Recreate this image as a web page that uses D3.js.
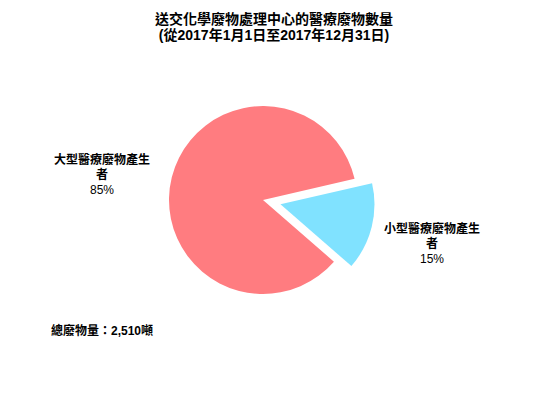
<!DOCTYPE html>
<html>
<head>
<meta charset="utf-8">
<script src="https://cdn.jsdelivr.net/npm/d3@7"></script>
<style>
  html, body { margin: 0; padding: 0; background: #fff; }
  text { font-family: "Liberation Sans", Arial, "Noto Sans CJK TC", sans-serif; font-weight: bold; fill: #000; }
</style>
</head>
<body>
<div id="chart"></div>
<script>
// Waste received at the chemical waste treatment centre, 2017
const titleLines = ['送交化學廢物處理中心的醫療廢物數量', '(從2017年1月1日至2017年12月31日)'];
const categories = [['大型醫療廢物產生', '者'], ['小型醫療廢物產生', '者']];
const shares = [85, 15];
const colors = ['#FF7C80', '#80E2FF'];
const totalLabel = '總廢物量：2,510噸';

(function () {
  const W = 539, H = 409;
  const cx = 263, cy = 200, radius = 94, explode = 18;

  const svg = d3.select('#chart').append('svg')
    .attr('width', W).attr('height', H)
    .attr('viewBox', `0 0 ${W} ${H}`);

  svg.append('g').selectAll('text')
    .data(titleLines)
    .enter().append('text')
    .attr('x', 274).attr('y', (d, i) => 24 + i * 16)
    .attr('text-anchor', 'middle')
    .style('font-size', '14px')
    .text(d => d);

  const rows = shares.map((v, i) => ({ value: v, label: categories[i], color: colors[i] }));
  const pie = d3.pie().value(d => d.value).sort(null)
    .startAngle(131 * Math.PI / 180)
    .endAngle((131 + 360) * Math.PI / 180);
  const arc = d3.arc().innerRadius(0).outerRadius(radius);
  const arcs = pie(rows);

  const g = svg.append('g').attr('transform', `translate(${cx},${cy})`);
  g.selectAll('path')
    .data(arcs)
    .enter().append('path')
    .attr('fill', d => d.data.color)
    .attr('transform', (d, i) => {
      if (i === 0) return null;
      const mid = (d.startAngle + d.endAngle) / 2;
      return `translate(${Math.sin(mid) * explode},${-Math.cos(mid) * explode})`;
    })
    .attr('d', arc);

  const labelPos = [[102, 164], [432, 233]];
  arcs.forEach((d, i) => {
    const t = svg.append('text')
      .attr('text-anchor', 'middle')
      .attr('x', labelPos[i][0]).attr('y', labelPos[i][1])
      .style('font-size', '12px');
    const lines = d.data.label.concat([d.data.value + '%']);
    lines.forEach((s, j) => {
      t.append('tspan')
        .attr('x', labelPos[i][0])
        .attr('dy', j === 0 ? 0 : 15)
        .style('font-weight', j === lines.length - 1 ? 'normal' : 'bold')
        .text(s);
    });
  });

  svg.append('text')
    .attr('x', 51).attr('y', 335)
    .style('font-size', '12px')
    .text(totalLabel);
})();
</script>
</body>
</html>
